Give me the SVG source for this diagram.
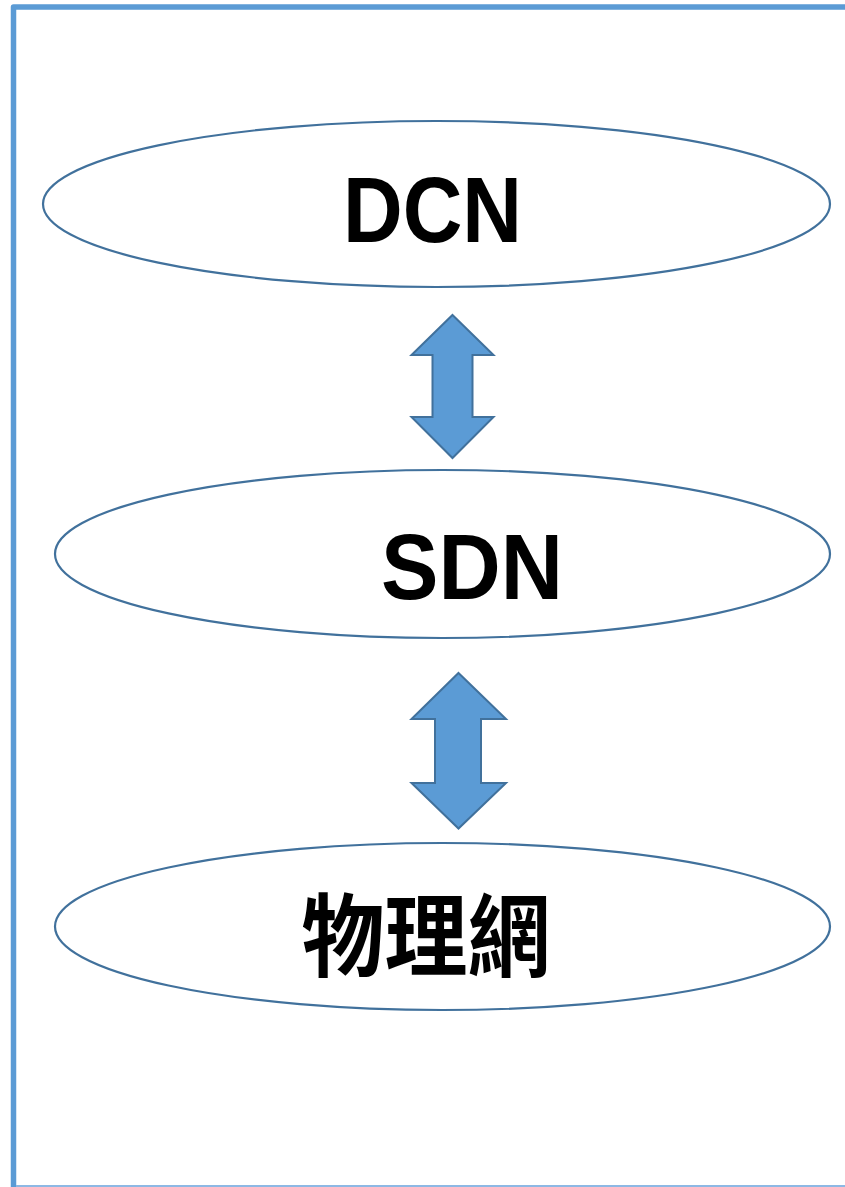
<svg xmlns="http://www.w3.org/2000/svg" width="845" height="1187" viewBox="0 0 845 1187">
<style>
.node ellipse{fill:#fff;stroke:#41719C;stroke-width:2.2}
.arrow{fill:#5B9BD5;stroke:#41719C;stroke-width:2;stroke-linejoin:miter}
.lat{font-family:"Liberation Sans",Arial,sans-serif;font-weight:bold;font-size:92px;fill:#000}
.cjk{font-family:"Noto Sans CJK TC","Noto Sans CJK SC",sans-serif;font-weight:bold;font-size:90px;fill:#000}
</style>
<rect width="845" height="1187" fill="#fff"/>
<g id="frame">
<path d="M13.5,1187 V7 H845" fill="none" stroke="#5B9BD5" stroke-width="5.5" stroke-linejoin="round"/>
<line x1="16" y1="1186" x2="845" y2="1186" stroke="#8DB8E4" stroke-width="2"/>
</g>
<g id="dcn" class="node">
<ellipse cx="436.5" cy="204" rx="393.5" ry="83"/>
<text class="lat" x="343" y="242" textLength="179" lengthAdjust="spacingAndGlyphs">DCN</text>
</g>
<g id="sdn" class="node">
<ellipse cx="442.5" cy="554" rx="387.5" ry="84"/>
<text class="lat" x="381" y="599" textLength="182" lengthAdjust="spacingAndGlyphs">SDN</text>
</g>
<g id="phys" class="node">
<ellipse cx="442.5" cy="926.5" rx="387.5" ry="83.5"/>
<text class="cjk" x="301.5" y="969" textLength="249" lengthAdjust="spacingAndGlyphs">物理網</text>
</g>
<g id="connectors">
<polygon class="arrow" points="452.5,315 493.5,355 472.5,355 472.5,417 493.5,417 452.5,458 411.5,417 432.5,417 432.5,355 411.5,355"/>
<polygon class="arrow" points="458.5,673 506,719 481,719 481,783 506,783 458.5,828.5 411.5,783 435,783 435,719 411.5,719"/>
</g>
</svg>
